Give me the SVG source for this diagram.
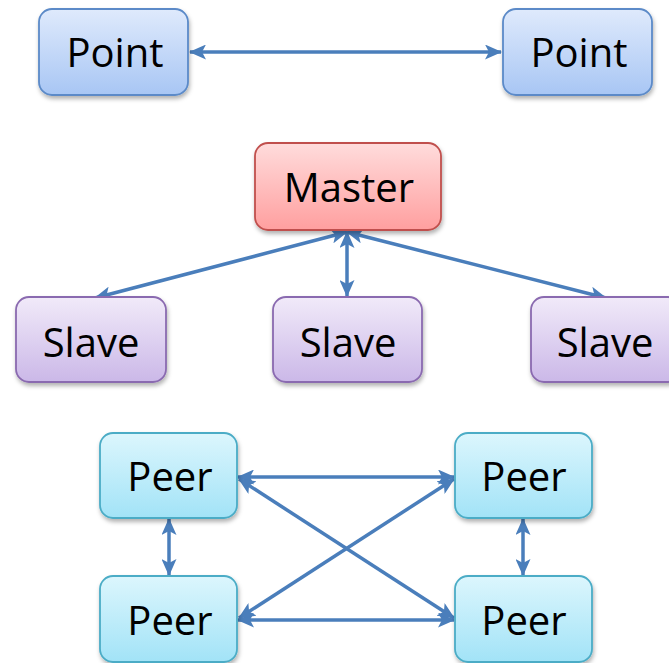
<svg xmlns="http://www.w3.org/2000/svg" width="669" height="663" viewBox="0 0 669 663">
  <defs>
    <linearGradient id="gBlue" x1="0" y1="0" x2="0" y2="1">
      <stop offset="0" stop-color="#dfeafc"/>
      <stop offset="1" stop-color="#a8c6f4"/>
    </linearGradient>
    <linearGradient id="gRed" x1="0" y1="0" x2="0" y2="1">
      <stop offset="0" stop-color="#ffdcdc"/>
      <stop offset="1" stop-color="#ff9f9f"/>
    </linearGradient>
    <linearGradient id="gPurple" x1="0" y1="0" x2="0" y2="1">
      <stop offset="0" stop-color="#f1eaf9"/>
      <stop offset="1" stop-color="#cbb8e8"/>
    </linearGradient>
    <linearGradient id="gCyan" x1="0" y1="0" x2="0" y2="1">
      <stop offset="0" stop-color="#dcf6fd"/>
      <stop offset="1" stop-color="#a2e3f7"/>
    </linearGradient>
    <filter id="shadow" x="-10%" y="-10%" width="125%" height="130%">
      <feDropShadow dx="1" dy="3" stdDeviation="2" flood-color="#000" flood-opacity="0.3"/>
    </filter>
    <marker id="head" viewBox="0 0 17 15" refX="16" refY="7.5" markerWidth="17" markerHeight="15" markerUnits="userSpaceOnUse" orient="auto-start-reverse">
      <path d="M0,0 L17,7.5 L0,15 L4,7.5 Z" fill="#4a7ebb"/>
    </marker>
  </defs>
  <style>
    .box { stroke-width: 1.8; filter: url(#shadow); }
    .point { fill: url(#gBlue); stroke: #5b8ac8; }
    .master { fill: url(#gRed); stroke: #c0504d; }
    .slave { fill: url(#gPurple); stroke: #8a6ab0; }
    .peer { fill: url(#gCyan); stroke: #4bacc6; }
    .label { font-family: "Open Sans", "Liberation Sans", sans-serif; font-size: 40px; fill: #000; text-anchor: middle; }
    .link { stroke: #4a7ebb; stroke-width: 3.5; fill: none; marker-start: url(#head); marker-end: url(#head); }
  </style>

  <!-- connectors -->
  <g id="connectors">
    <line class="link" x1="190" y1="52" x2="501" y2="52"/>
    <line class="link" x1="347" y1="232" x2="347" y2="296"/>
    <line class="link" x1="347" y1="232" x2="95" y2="298"/>
    <line class="link" x1="347" y1="232" x2="606" y2="298"/>
    <line class="link" x1="169" y1="519" x2="169" y2="575"/>
    <line class="link" x1="523" y1="519" x2="523" y2="575"/>
    <line class="link" x1="238" y1="477" x2="454" y2="477"/>
    <line class="link" x1="238" y1="620" x2="454" y2="620"/>
    <line class="link" x1="239" y1="479" x2="454" y2="618"/>
    <line class="link" x1="239" y1="618" x2="454" y2="479"/>
  </g>

  <!-- point to point -->
  <g id="point-left">
    <rect class="box point" x="39" y="9" width="149" height="86" rx="13"/>
    <text class="label" x="115" y="67">Point</text>
  </g>
  <g id="point-right">
    <rect class="box point" x="503" y="9" width="149" height="86" rx="13"/>
    <text class="label" x="579" y="67">Point</text>
  </g>

  <!-- master / slave -->
  <g id="master">
    <rect class="box master" x="255" y="143" width="186" height="87" rx="13"/>
    <text class="label" x="349" y="202">Master</text>
  </g>
  <g id="slave-left">
    <rect class="box slave" x="16" y="297" width="150" height="85" rx="13"/>
    <text class="label" x="91" y="357">Slave</text>
  </g>
  <g id="slave-middle">
    <rect class="box slave" x="273" y="297" width="149" height="85" rx="13"/>
    <text class="label" x="348" y="357">Slave</text>
  </g>
  <g id="slave-right">
    <rect class="box slave" x="531" y="297" width="150" height="85" rx="13"/>
    <text class="label" x="605" y="357">Slave</text>
  </g>

  <!-- peer to peer -->
  <g id="peer-top-left">
    <rect class="box peer" x="100" y="433" width="137" height="85" rx="13"/>
    <text class="label" x="170" y="491">Peer</text>
  </g>
  <g id="peer-top-right">
    <rect class="box peer" x="455" y="433" width="137" height="85" rx="13"/>
    <text class="label" x="524" y="491">Peer</text>
  </g>
  <g id="peer-bottom-left">
    <rect class="box peer" x="100" y="576" width="137" height="86" rx="13"/>
    <text class="label" x="170" y="635">Peer</text>
  </g>
  <g id="peer-bottom-right">
    <rect class="box peer" x="455" y="576" width="137" height="86" rx="13"/>
    <text class="label" x="524" y="635">Peer</text>
  </g>
</svg>
